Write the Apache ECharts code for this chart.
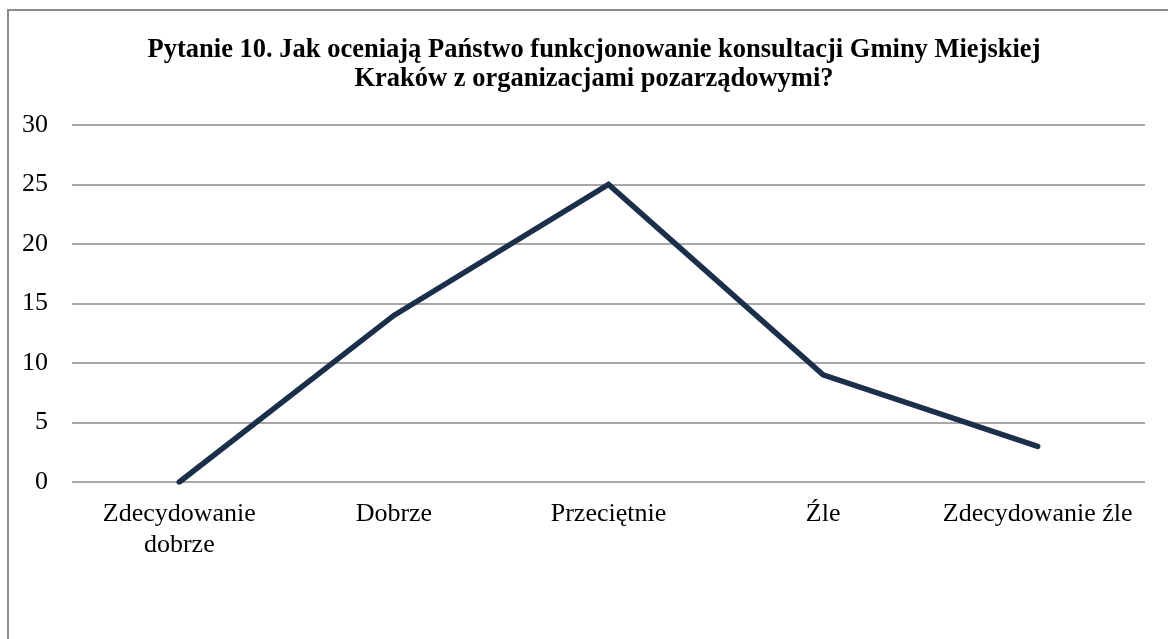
<!DOCTYPE html>
<html>
<head>
<meta charset="utf-8">
<script src="https://cdn.jsdelivr.net/npm/echarts@6/dist/echarts.min.js"></script>
<style>
  html, body { margin: 0; padding: 0; background: #fff; }
  #main { width: 1168px; height: 639px; }
</style>
</head>
<body>
<div id="main"></div>
<script>
var categories = ['Zdecydowanie\ndobrze', 'Dobrze', 'Przeciętnie', 'Źle', 'Zdecydowanie źle'];
var values = [0, 14, 25, 9, 3];
var titleText = 'Pytanie 10. Jak oceniają Państwo funkcjonowanie konsultacji Gminy Miejskiej\nKraków z organizacjami pozarządowymi?';

var myChart = echarts.init(document.getElementById('main'));
var option = {
	backgroundColor: '#fff',
	title: {
		text: titleText,
		left: 589,
		textAlign: 'center',
		top: 31,
		textStyle: {
			fontFamily: 'Liberation Serif',
			fontWeight: 'bold',
			fontSize: 26.5,
			lineHeight: 28.5,
			color: '#000'
		}
	},
	graphic: [
		{
			type: 'rect',
			shape: { x: 8, y: 10, width: 1300, height: 800 },
			style: { fill: 'none', stroke: '#8c8c8c', lineWidth: 2 },
			silent: true
		}
	],
	grid: {
		left: 72,
		right: 23,
		top: 125,
		bottom: 157
	},
	xAxis: {
		type: 'category',
		data: categories,
		boundaryGap: true,
		axisLine: { show: false },
		axisTick: { show: false },
		axisLabel: {
			interval: 0,
			fontFamily: 'Liberation Serif',
			fontSize: 26,
			lineHeight: 31,
			color: '#000',
			margin: 17
		}
	},
	yAxis: {
		type: 'value',
		min: 0,
		max: 30,
		interval: 5,
		axisLine: { show: false },
		axisTick: { show: false },
		axisLabel: {
			fontFamily: 'Liberation Serif',
			fontSize: 26,
			color: '#000',
			margin: 24
		},
		splitLine: {
			lineStyle: { color: '#8a8a8a', width: 1.5 }
		}
	},
	series: [
		{
			type: 'line',
			data: values,
			symbol: 'none',
			lineStyle: { color: '#1b2f4b', width: 5.5, cap: 'round', join: 'miter' },
			itemStyle: { color: '#1b2f4b' }
		}
	]
};
myChart.setOption(option);
</script>
</body>
</html>
